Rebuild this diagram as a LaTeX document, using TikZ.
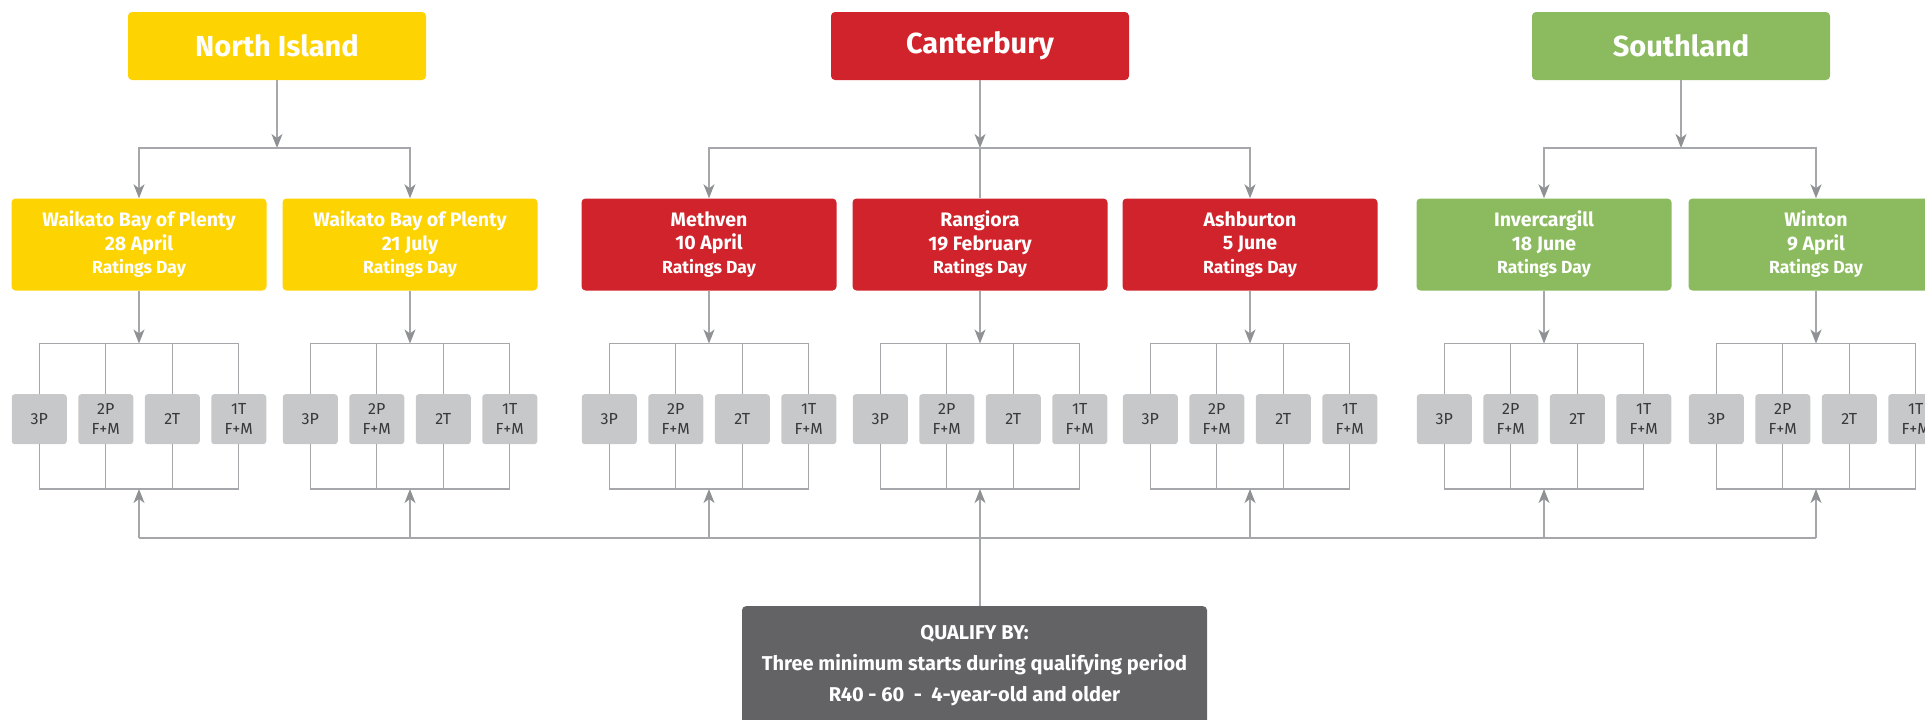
\documentclass[tikz,border=0pt]{standalone}
\usepackage{fontspec}
\setmainfont{Fira Sans}
\usetikzlibrary{arrows.meta}
\definecolor{niY}{HTML}{FDD302}
\definecolor{cbR}{HTML}{D0232B}
\definecolor{slG}{HTML}{8BBB5E}
\definecolor{clsG}{HTML}{C7C8CA}
\definecolor{clsT}{HTML}{38383A}
\definecolor{darkG}{HTML}{636366}
\definecolor{lineG}{HTML}{A6A7AA}
\definecolor{tipG}{HTML}{909195}
\tikzset{
  conn/.style={draw=lineG, line width=1.4pt},
  arr/.style={conn, -{Stealth[length=14pt,width=11pt,inset=4pt,color=tipG]}},
  region/.style={rounded corners=4pt, minimum width=298pt, minimum height=68pt, inner sep=0pt,
    text=white, font=\bfseries\fontsize{29}{33}\selectfont},
  venue/.style={rounded corners=4pt, minimum width=255pt, minimum height=92pt, inner sep=0pt,
    text=white, align=center, font=\bfseries\fontsize{19.5}{23.5}\selectfont},
  cls/.style={fill=clsG, rounded corners=3pt, minimum width=55pt, minimum height=50pt, inner sep=0pt,
    text=clsT, align=center, font=\fontsize{16}{19.5}\selectfont},
  qual/.style={fill=darkG, rounded corners=4pt, minimum width=465pt, inner xsep=0pt, inner ysep=19pt,
    text depth=110pt, text=white, align=center, font=\bfseries\fontsize{20}{31}\selectfont}
}
\newcommand{\rday}{{\fontsize{17.5}{23.5}\selectfont Ratings Day}}
\begin{document}
\begin{tikzpicture}[x=1pt,y=-1pt]
\useasboundingbox (0,0) rectangle (1925,720);
\clip (0,0) rectangle (1925,720);

% regions
\node[region, fill=niY] (ni) at (277,46) {North Island};
\node[region, fill=cbR] (cb) at (980,46) {Canterbury};
\node[region, fill=slG] (sl) at (1681,46) {Southland};

% venues
\node[venue, fill=niY] (v1) at (139,244.5) {Waikato Bay of Plenty\\28 April\\\rday};
\node[venue, fill=niY] (v2) at (410,244.5) {Waikato Bay of Plenty\\21 July\\\rday};
\node[venue, fill=cbR] (v3) at (709,244.5) {Methven\\10 April\\\rday};
\node[venue, fill=cbR] (v4) at (980,244.5) {Rangiora\\19 February\\\rday};
\node[venue, fill=cbR] (v5) at (1250,244.5) {Ashburton\\5 June\\\rday};
\node[venue, fill=slG] (v6) at (1544,244.5) {Invercargill\\18 June\\\rday};
\node[venue, fill=slG] (v7) at (1816,244.5) {Winton\\9 April\\\rday};

% region -> venues
\coordinate (niJ) at (277,148);
\coordinate (cbJ) at (980,148);
\coordinate (slJ) at (1681,148);
\draw[arr] (ni.south) -- (niJ);
\draw[arr] (niJ) -| (v1.north);
\draw[arr] (niJ) -| (v2.north);
\draw[arr] (cb.south) -- (cbJ);
\draw[arr] (cbJ) -| (v3.north);
\draw[conn] (cbJ) -- (v4.north);
\draw[arr] (cbJ) -| (v5.north);
\draw[arr] (sl.south) -- (slJ);
\draw[arr] (slJ) -| (v6.north);
\draw[arr] (slJ) -| (v7.north);

% classes per venue
\foreach \i in {1,...,7}{
  \path (v\i.south) ++(-99.75,128.5) node[cls] (c\i a) {3P};
  \path (v\i.south) ++(-33.25,128.5) node[cls] (c\i b) {2P\\F+M};
  \path (v\i.south) ++(33.25,128.5) node[cls] (c\i c) {2T};
  \path (v\i.south) ++(99.75,128.5) node[cls] (c\i d) {1T\\F+M};
  \coordinate (t\i) at (v\i.south |- 0,343.5);
  \coordinate (b\i) at (v\i.south |- 0,489);
  \coordinate (L\i) at (v\i.south |- 0,538);
  \draw[arr] (v\i.south) -- (t\i);
  \draw[conn] (c\i a.north) -- (c\i a.north |- t\i) -- (c\i d.north |- t\i) -- (c\i d.north);
  \draw[conn] (c\i b.north) -- (c\i b.north |- t\i);
  \draw[conn] (c\i c.north) -- (c\i c.north |- t\i);
  \draw[conn] (c\i a.south) -- (c\i a.south |- b\i) -- (c\i d.south |- b\i) -- (c\i d.south);
  \draw[conn] (c\i b.south) -- (c\i b.south |- b\i);
  \draw[conn] (c\i c.south) -- (c\i c.south |- b\i);
}
\foreach \i in {1,2,3,5,6,7}{
  \draw[arr] (L\i) -- (b\i);
}
\draw[conn] (L1) -- (L7);

% qualify box
\node[qual, anchor=north] (q) at (974.5,606) {QUALIFY BY:\\Three minimum starts during qualifying period\\R40 - 60 \ - \ 4-year-old and older};
\draw[arr] (q.north -| b4) -- (b4);
\end{tikzpicture}
\end{document}
